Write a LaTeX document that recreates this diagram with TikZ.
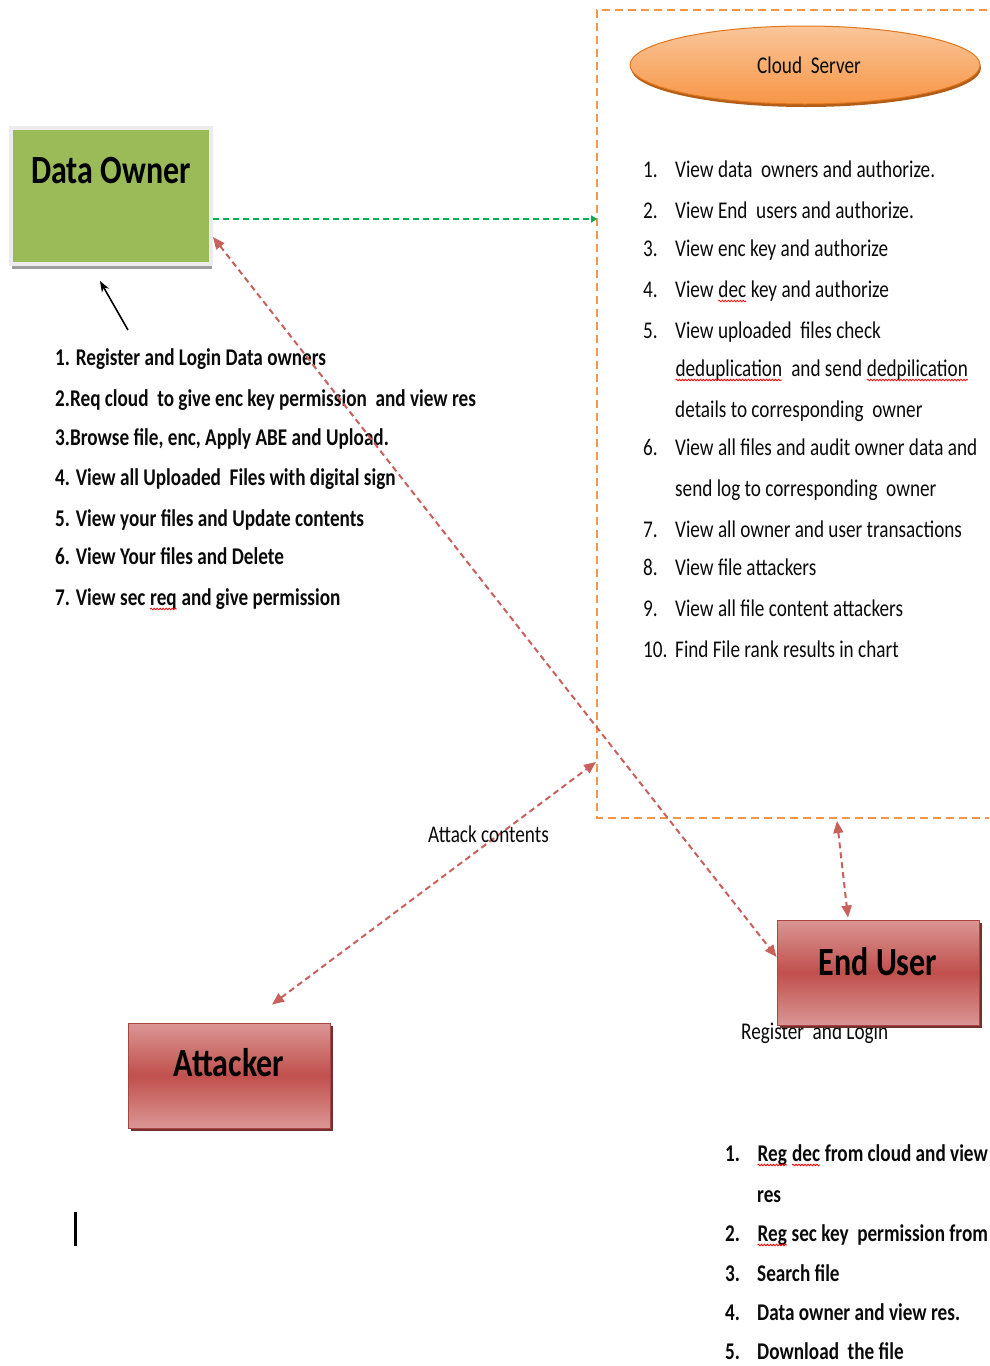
\documentclass[tikz,border=0pt]{standalone}
\usepackage{fontspec}
\setmainfont{Carlito}[FakeStretch=0.8]
\usetikzlibrary{arrows.meta,shapes.geometric,shadows,decorations.pathmorphing}

\definecolor{ownergreen}{HTML}{9BBB59}
\definecolor{framegray}{HTML}{ECECEC}
\definecolor{linkgreen}{HTML}{00B050}
\definecolor{linkred}{HTML}{C9605C}
\definecolor{boxred}{HTML}{C0504D}
\definecolor{boxredlight}{HTML}{DA9694}
\definecolor{boxredline}{HTML}{A94442}
\definecolor{cloudorange}{HTML}{F79646}
\definecolor{cloudlight}{HTML}{FAC69A}
\definecolor{cloudedge}{HTML}{E0761E}
\definecolor{inktext}{HTML}{0A0A0A}

% red wavy underline under a word
\newcommand\misspelt[1]{\tikz[baseline=(sq.base)]{\node[inner sep=0pt,outer sep=0pt](sq){#1};\draw[red,line width=0.8pt,decorate,decoration={snake,amplitude=0.8pt,segment length=3pt}]([yshift=-4pt]sq.base west)--([yshift=-4pt]sq.base east);}}

\tikzset{
  listtext/.style={anchor=base west,inner sep=0pt,text=inktext,font=\fontsize{24}{28}\selectfont},
  boldlist/.style={listtext,font=\fontsize{24}{28}\selectfont\bfseries},
  titletext/.style={anchor=base,inner sep=0pt,text=black,font=\fontsize{40}{44}\selectfont\bfseries},
  redbox/.style={rectangle,minimum width=202,minimum height=105,draw=boxredline,line width=1pt,
    top color=boxredlight,bottom color=boxredlight,middle color=boxred,
    drop shadow={shadow xshift=3pt,shadow yshift=-3pt,fill=boxred!60!black,opacity=1}},
  redlink/.style={draw=linkred,line width=2pt,dash pattern=on 6pt off 4pt,
    {Triangle[length=12pt,width=10pt,fill=linkred]}-{Triangle[length=12pt,width=10pt,fill=linkred]}},
  greenlink/.style={draw=linkgreen,line width=2pt,dash pattern=on 6pt off 4pt,
    -{Triangle[length=6pt,width=7pt,fill=linkgreen]}},
  cloudframe/.style={draw=cloudorange,line width=2pt,dash pattern=on 8pt off 5pt},
}

\begin{document}
\begin{tikzpicture}[x=1pt,y=-1pt]
\useasboundingbox (0,0) rectangle (989,1366);
\clip (0,0) rectangle (989,1366);

% ---- cloud server region ----
\coordinate (cloudNE) at (1000,10);
\coordinate (cloudNW) at (597,10);
\coordinate (cloudSW) at (597,818);
\coordinate (cloudSE) at (1000,818);
\draw[cloudframe] (cloudNE) -- (cloudNW) -- (cloudSW) -- (cloudSE);
\coordinate (cloudW) at (597,219);
\coordinate (attackTip) at (596,762);
\coordinate (cloudS) at (837,821);

\node[ellipse,minimum width=350,minimum height=78,draw=cloudedge,line width=1pt,
  top color=cloudlight,bottom color=cloudorange,
  drop shadow={shadow xshift=1pt,shadow yshift=-3pt,fill=cloudedge!80!black,opacity=1}]
  (cloud) at (805,65) {};
\node[anchor=base,inner sep=0pt,text=inktext,font=\fontsize{24}{28}\selectfont] (cloudlabel) at (809,73) {Cloud~~Server};

% cloud server tasks
\foreach \n/\y in {1./177,2./218,3./256,4./297,5./338,6./455,7./537,8./575,9./616,10./657}
  \node[listtext] (cn\y) at (643,\y) {\n};
\node[listtext] (c1) at (675,177) {View data~ owners and authorize.};
\node[listtext] (c2) at (675,218) {View End~ users and authorize.};
\node[listtext] (c3) at (675,256) {View enc key and authorize};
\node[listtext] (c4) at (675,297) {View \misspelt{dec} key and authorize};
\node[listtext] (c5a) at (675,338) {View uploaded~ files check};
\node[listtext] (c5b) at (675,376) {\misspelt{deduplication}~ and send \misspelt{dedpilication}};
\node[listtext] (c5c) at (675,417) {details to corresponding~ owner};
\node[listtext] (c6a) at (675,455) {View all files and audit owner data and};
\node[listtext] (c6b) at (675,496) {send log to corresponding~ owner};
\node[listtext] (c7) at (675,537) {View all owner and user transactions};
\node[listtext] (c8) at (675,575) {View file attackers};
\node[listtext] (c9) at (675,616) {View all file content attackers};
\node[listtext] (c10) at (675,657) {Find File rank results in chart};

% ---- data owner ----
\node[rectangle,minimum width=200,minimum height=136,fill=ownergreen,draw=framegray,line width=4pt,
  drop shadow={shadow xshift=1pt,shadow yshift=-5pt,fill=black!38,opacity=1}]
  (do) at (111,196) {};
\node[titletext] (dolabel) at (111,183) {Data Owner};

\node[boldlist] (o1) at (55,365) {1. Register and Login Data owners};
\node[boldlist] (o2) at (55,406) {2.Req cloud~ to give enc key permission~ and view res};
\node[boldlist] (o3) at (55,445) {3.Browse file, enc, Apply ABE and Upload.};
\node[boldlist] (o4) at (55,485) {4. View all Uploaded~ Files with digital sign};
\node[boldlist] (o5) at (55,526) {5. View your files and Update contents};
\node[boldlist] (o6) at (55,564) {6. View Your files and Delete};
\node[boldlist] (o7) at (55,605) {7. View sec \misspelt{req} and give permission};

\coordinate (ownerNote) at (128,330);
\draw[line width=1.6pt,-{Stealth[length=11pt,width=8pt]}] (ownerNote) -- ([xshift=-11pt,yshift=-15pt]do.south);

% ---- end user ----
\node[anchor=base west,inner sep=0pt,text=inktext,font=\fontsize{24}{28}\selectfont] (reglogin) at (741,1039) {Register~ and Login};
\node[redbox] (eu) at (878,972.5) {};
\node[titletext] (eulabel) at (878,975) {End User};

\foreach \n/\y in {1./1161,2./1241,3./1281,4./1320,5./1359}
  \node[boldlist] (un\y) at (725,\y) {\n};
\node[boldlist] (u1a) at (757,1161) {\misspelt{Reg} \misspelt{dec} from cloud and view};
\node[boldlist] (u1b) at (757,1202) {res};
\node[boldlist] (u2) at (757,1241) {\misspelt{Reg} sec key~ permission from};
\node[boldlist] (u3) at (757,1281) {Search file};
\node[boldlist] (u4) at (757,1320) {Data owner and view res.};
\node[boldlist] (u5) at (757,1359) {Download~ the file};

% ---- attacker ----
\node[redbox] (att) at (229,1075.5) {};
\node[titletext] (attlabel) at (229,1076) {Attacker};

% ---- connectors ----
\draw[greenlink] ([yshift=-23pt]do.east) -- (cloudW);
\draw[redlink] ([yshift=-41pt]do.east) -- ([yshift=15.5pt]eu.west);
\draw[redlink] ([xshift=43pt,yshift=18pt]att.north) -- (attackTip);
\draw[redlink] (cloudS) -- ([xshift=-30pt,yshift=2pt]eu.north);
\node[anchor=base west,inner sep=0pt,text=inktext,font=\fontsize{24}{28}\selectfont] (attacklabel) at (428,842) {Attack contents};

% text cursor
\draw[line width=3pt] (75,1212) -- (75,1246);
\end{tikzpicture}
\end{document}
